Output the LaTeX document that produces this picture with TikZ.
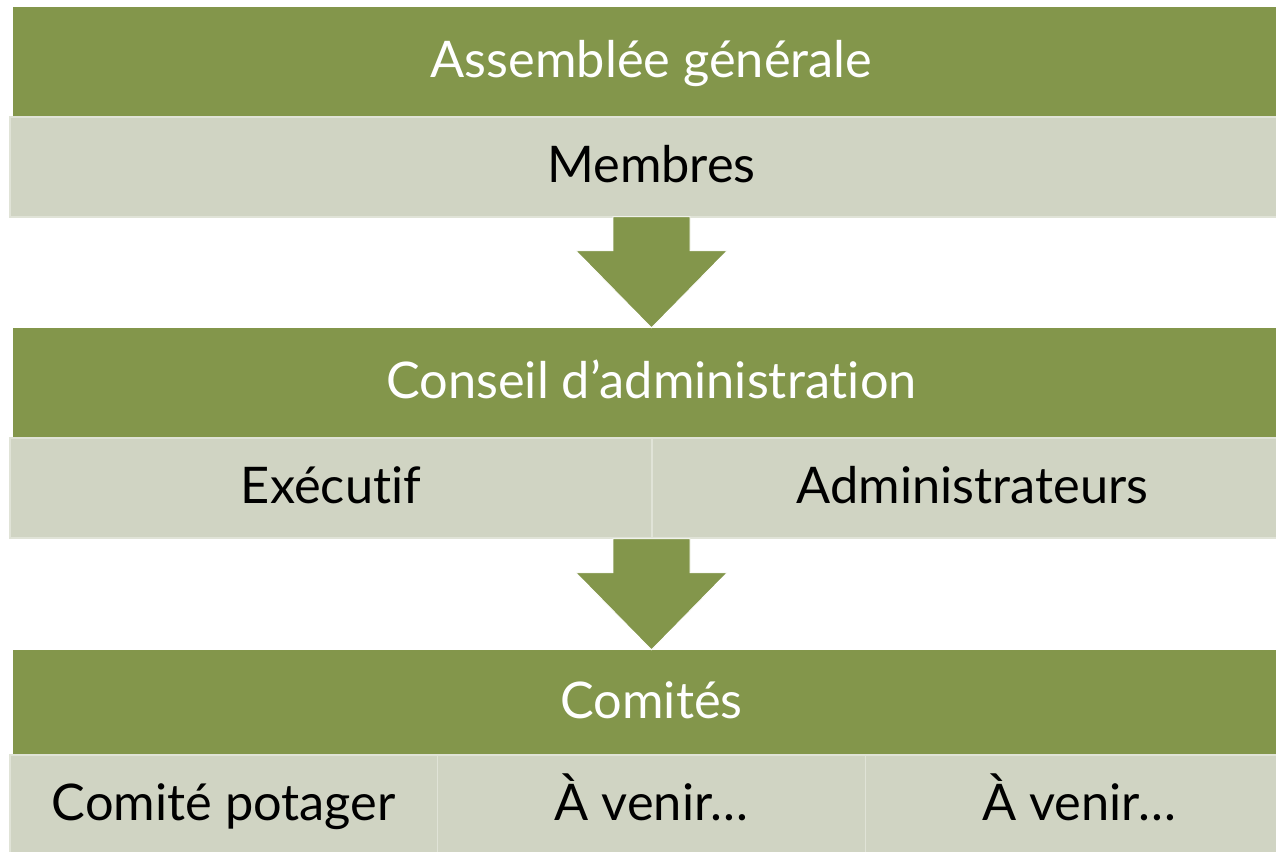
\documentclass[tikz,border=0pt]{standalone}
\usepackage{fontspec}
\setmainfont{Lato}[Ligatures=NoCommon]
\usetikzlibrary{positioning}
\definecolor{bandgreen}{RGB}{131,150,75}
\definecolor{cellgray}{RGB}{208,212,195}
\definecolor{cellline}{RGB}{224,227,215}
\begin{document}
\begin{tikzpicture}[x=1pt,y=-1pt]
\tikzstyle{band}=[rectangle,fill=bandgreen,text=white,inner sep=0pt,minimum width=1277pt,minimum height=110pt,text height=31pt,text depth=0pt,font=\fontsize{50.5}{60}\selectfont];
\tikzstyle{cell}=[rectangle,fill=cellgray,draw=cellline,line width=1.5pt,inner sep=0pt,minimum height=100pt,text height=31pt,text depth=0pt,font=\fontsize{50.5}{60}\selectfont];
\tikzstyle{flow}=[fill=bandgreen,draw=white,line width=0.8pt];
\clip (0,0) rectangle (1276,851);
% top level
\node [band](ag) at (651.5,62) {Assemblée générale};
\node [cell,minimum width=1283pt](memb) at (651.5,167) {Membres};
% middle level
\node [band](ca) at (651.5,383) {Conseil d’administration};
\node [cell,minimum width=642pt](exec) at (331,488) {Exécutif};
\node [cell,minimum width=641pt](admin) at (972.5,488) {Administrateurs};
% bottom level
\node [band,minimum height=105pt](com) at (651.5,702.5) {Comités};
\node [cell,minimum width=427.7pt](cpot) at (223.8,805) {Comité potager};
\node [cell,minimum width=427.7pt](av1) at (651.5,805) {À venir…};
\node [cell,minimum width=427.7pt](av2) at (1079.2,805) {À venir…};
% block arrows
\fill [flow] (ca.north) -- ++(-75.5,-77) -- ++(37,0) -- ++(0,-34) -- ++(77,0) -- ++(0,34) -- ++(37,0) -- cycle;
\fill [flow] (com.north) -- ++(-75.5,-77) -- ++(37,0) -- ++(0,-34) -- ++(77,0) -- ++(0,34) -- ++(37,0) -- cycle;
\end{tikzpicture}
\end{document}
